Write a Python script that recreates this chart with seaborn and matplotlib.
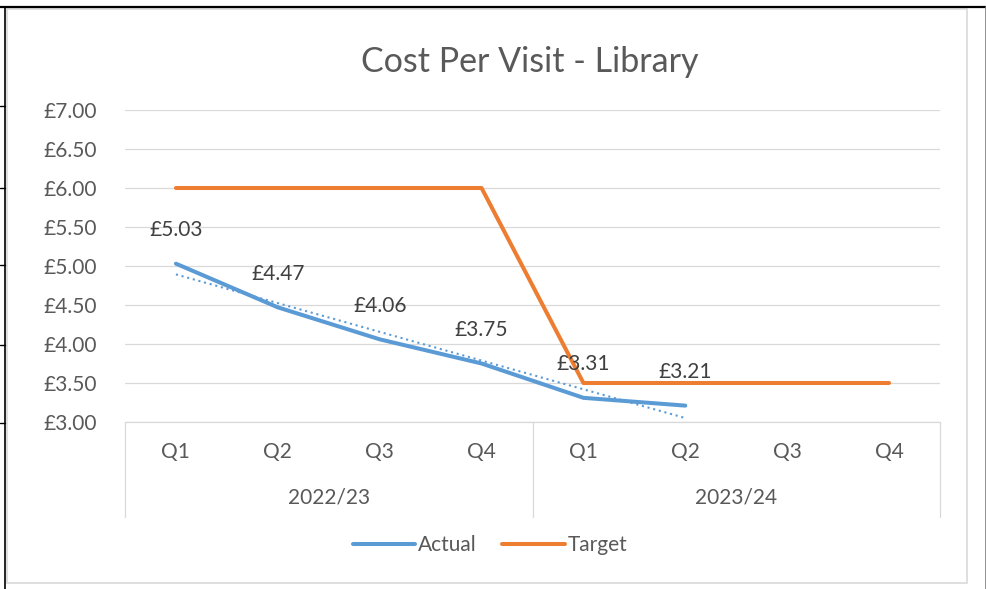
import numpy as np
import pandas as pd
import matplotlib
matplotlib.use("Agg")
import matplotlib.pyplot as plt
import matplotlib.transforms as mtransforms
from matplotlib.lines import Line2D
from matplotlib.patches import Rectangle
import seaborn as sns

# ---- data -------------------------------------------------------------
quarters = ["Q1", "Q2", "Q3", "Q4", "Q1", "Q2", "Q3", "Q4"]
years = ["2022/23", "2023/24"]
actual = [5.03, 4.47, 4.06, 3.75, 3.31, 3.21]
target = [6.00, 6.00, 6.00, 6.00, 3.50, 3.50, 3.50, 3.50]
y_ticks = [3.00, 3.50, 4.00, 4.50, 5.00, 5.50, 6.00, 6.50, 7.00]

# ---- style ------------------------------------------------------------
sns.set_theme(style="white")
plt.rcParams["font.family"] = ["Lato", "DejaVu Sans"]
BLUE = "#5B9BD5"
ORANGE = "#ED7D31"
GRID = "#D9D9D9"
TXT = "#595959"
LBL = "#404040"
FS = 15

W, H = 987, 589
fig = plt.figure(figsize=(W / 100, H / 100), dpi=100)
fig.patch.set_facecolor("white")


def fx(px):
    return px / W


def fy(py):
    return 1 - py / H


ax = fig.add_axes([fx(125), fy(422), fx(940) - fx(125), fy(110) - fy(422)])

df = pd.concat([
    pd.DataFrame({"pos": range(len(actual)), "value": actual, "series": "Actual"}),
    pd.DataFrame({"pos": range(len(target)), "value": target, "series": "Target"}),
])

# linear trend of the actual figures
xs = np.arange(len(actual))
coef = np.polyfit(xs, actual, 1)
ax.plot(xs, np.polyval(coef, xs), color=BLUE, lw=1.5, ls=(0, (1, 1.8)), zorder=2)

sns.lineplot(data=df, x="pos", y="value", hue="series",
             palette={"Actual": BLUE, "Target": ORANGE},
             linewidth=2.9, legend=False, ax=ax, zorder=3)
for ln in ax.lines[1:]:
    ln.set_solid_capstyle("round")
    ln.set_solid_joinstyle("round")

# data labels
for i, v in enumerate(actual):
    ax.annotate(f"£{v:.2f}", (i, v), xytext=(0, 24), textcoords="offset points",
                ha="center", va="center", color=LBL, fontsize=FS, zorder=4)

ax.set_xlim(-0.5, len(quarters) - 0.5)
ax.set_ylim(3, 7)
ax.set_yticks(y_ticks)
ax.set_yticklabels([f"£{t:.2f}" for t in y_ticks], color=TXT, fontsize=FS)
ax.tick_params(axis="y", length=0, pad=20)
ax.set_xticks([])
ax.set_xlabel("")
ax.set_ylabel("")
ax.grid(axis="y", color=GRID, lw=0.9)
ax.set_axisbelow(True)
for s in ["top", "right", "left"]:
    ax.spines[s].set_visible(False)
ax.spines["bottom"].set_color(GRID)
ax.spines["bottom"].set_linewidth(0.9)

# two-level category axis
bt = mtransforms.blended_transform_factory(ax.transData, fig.transFigure)
for i, q in enumerate(quarters):
    ax.text(i, fy(452), q, transform=bt, ha="center", va="center",
            color=TXT, fontsize=FS)
for j, yr in enumerate(years):
    ax.text(j * 4 + 1.5, fy(497), yr, transform=bt, ha="center", va="center",
            color=TXT, fontsize=FS)
for xb in [-0.5, 3.5, 7.5]:
    ax.plot([xb, xb], [fy(422), fy(517)], transform=bt, color=GRID, lw=0.9,
            clip_on=False)

# title
fig.text(fx(530), fy(62), "Cost Per Visit - Library", ha="center", va="center",
         color=TXT, fontsize=24.5)

# legend
handles = [Line2D([], [], color=BLUE, lw=2.9, solid_capstyle="round"),
           Line2D([], [], color=ORANGE, lw=2.9, solid_capstyle="round")]
fig.legend(handles, ["Actual", "Target"], loc="center",
           bbox_to_anchor=(fx(490), fy(545)), ncol=2, frameon=False,
           handlelength=3.0, handletextpad=0.15, columnspacing=1.2,
           fontsize=FS, labelcolor=TXT)

# chart area border
fig.add_artist(Rectangle((fx(7), fy(583)), fx(967) - fx(7), fy(9) - fy(583),
                         transform=fig.transFigure, fill=False, ec=GRID, lw=1.2))

# surrounding sheet cell borders
fig.add_artist(Line2D([0, fx(986)], [fy(7), fy(7)], color="black", lw=1.6))
fig.add_artist(Line2D([fx(5), fx(5)], [fy(7), 0], color="black", lw=1.2))
fig.add_artist(Line2D([fx(986), fx(986)], [fy(7), 0], color="#7F7F7F", lw=1.2))
for ty in [106, 188, 265, 345, 423]:
    fig.add_artist(Line2D([0, fx(5)], [fy(ty), fy(ty)], color="black", lw=1.0))

fig.savefig("out.png", dpi=100, facecolor="white")
